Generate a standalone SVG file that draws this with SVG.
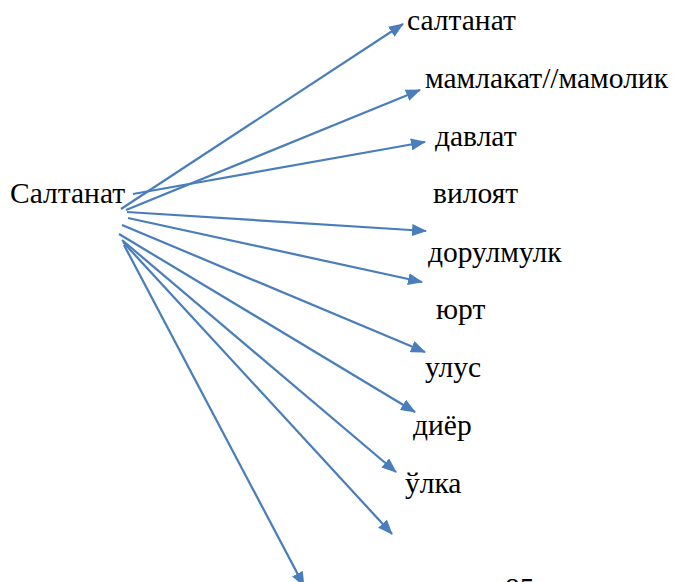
<svg xmlns="http://www.w3.org/2000/svg" width="673" height="582" viewBox="0 0 673 582">
<style>
text{font-family:"Liberation Serif","Times New Roman",serif;font-size:29.5px;fill:#000}
.c line{stroke:#4a7ebb;stroke-width:2.25;fill:none}
</style>
<defs>
<marker id="ah" viewBox="0 0 15 12" refX="14" refY="6" markerWidth="15" markerHeight="12" markerUnits="userSpaceOnUse" orient="auto">
<path d="M0,0 L15,6 L0,12 z" fill="#4a7ebb"/>
</marker>
</defs>
<rect width="673" height="582" fill="#fff"/>
<g id="source"><text x="10" y="203">Салтанат</text></g>
<g id="n1"><text x="407" y="30">салтанат</text></g>
<g id="n2"><text x="425" y="88">мамлакат//мамолик</text></g>
<g id="n3"><text x="435" y="146">давлат</text></g>
<g id="n4"><text x="433" y="203">вилоят</text></g>
<g id="n5"><text x="428" y="262">дорулмулк</text></g>
<g id="n6"><text x="436" y="319">юрт</text></g>
<g id="n7"><text x="425" y="377">улус</text></g>
<g id="n8"><text x="413" y="435">диёр</text></g>
<g id="n9"><text x="405" y="493">ўлка</text></g>
<g id="page"><text x="505" y="598">85</text></g>
<g class="c" id="connectors">
<line x1="121" y1="209" x2="403" y2="24" marker-end="url(#ah)"/>
<line x1="126" y1="210" x2="420" y2="90" marker-end="url(#ah)"/>
<line x1="133" y1="194" x2="425" y2="142" marker-end="url(#ah)"/>
<line x1="127" y1="212" x2="426" y2="231" marker-end="url(#ah)"/>
<line x1="128" y1="218" x2="422" y2="282" marker-end="url(#ah)"/>
<line x1="122" y1="225" x2="425" y2="352" marker-end="url(#ah)"/>
<line x1="119" y1="234" x2="415" y2="412" marker-end="url(#ah)"/>
<line x1="122" y1="240" x2="396" y2="472" marker-end="url(#ah)"/>
<line x1="123" y1="242" x2="392" y2="534" marker-end="url(#ah)"/>
<line x1="124" y1="245" x2="304" y2="586" marker-end="url(#ah)"/>
</g>
</svg>
